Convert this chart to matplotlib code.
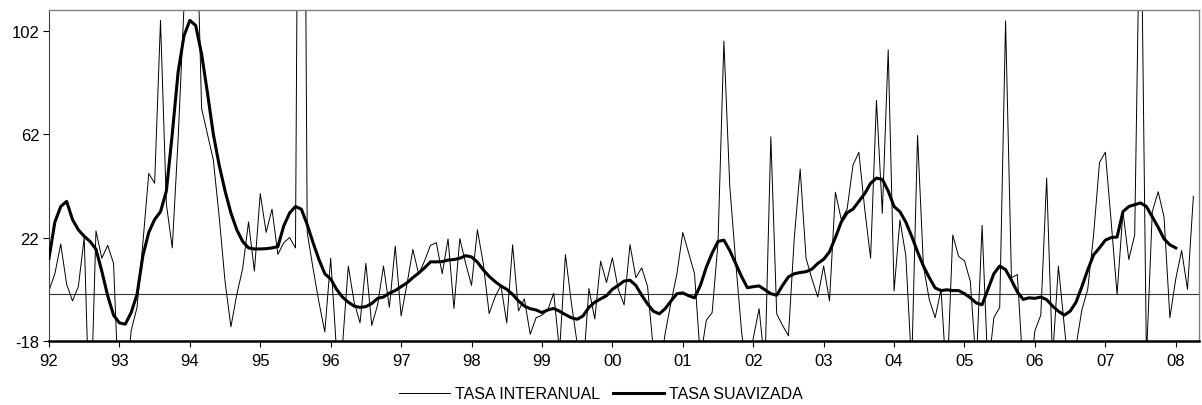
import numpy as np
import matplotlib
matplotlib.use("Agg")
import matplotlib.pyplot as plt

plt.rcParams['font.family'] = ['Liberation Sans', 'DejaVu Sans']
plt.rcParams['axes.unicode_minus'] = False

# Monthly data, Jan 1992 onwards
raw_values = [
    # 1992
    1.5, 8, 19.5, 4, -2.5, 3, 22, -55, 24.6, 14, 19, 12,
    # 1993
    -45, -40, -14, -5, 20, 46.8, 43, 106, 35, 18, 60, 112,
    # 1994
    150, 160, 72, 62, 52, 30, 5, -12.5, 0, 10, 28, 9,
    # 1995
    39, 24, 33, 15.5, 20, 22, 18, 400, 24, 10, -3, -14.5,
    # 1996
    14, -22, -20, 11, -3, -11, 12, -12, -4, 11, -5, 18.7,
    # 1997
    -8.3, 4, 17.4, 7.8, 13, 19, 20, 8, 21.5, -5.4, 21.6, 12,
    # 1998
    3.5, 25, 12, -7.4, -1, 3.5, -11, 19.2, -6.4, -1.7, -15.4, -9,
    # 1999
    -8, -6, 0.5, -22, 15.4, -3, -19, -30, 2.3, -9.5, 12.9, 4.6,
    # 2000
    14.2, 2, -4, 19.3, 6.5, 10.3, 3, -22, -30, -15, -3, 8,
    # 2001
    24, 16, 8, -25, -10, -7, 20, 98, 42, 13, -14, -35,
    # 2002
    -17, -5.5, -28, 61, -7.5, -12, -16, 22, 48.5, 14, 6, -1,
    # 2003
    11, -2.5, 39.5, 29, 33, 50, 55, 33, 14, 75, 31.4, 94.6,
    # 2004
    1.3, 28.8, 15, -28, 61.5, 11, -2, -9, 2, -35, 23, 14.7,
    # 2005
    13, 5, -28, 26.7, -30, -9, -5, 105.8, 6.4, 7.7, -30, -35,
    # 2006
    -14, -8, 45, -25, 10.9, -12, -35, -20, -6, 2, 23, 51,
    # 2007
    55, 28, 0, 32, 13.5, 23, 170, -25, 32, 39.7, 30, -9,
    # 2008
    6, 17, 2, 38,
]

smooth_values = [
    # 1992
    14, 28, 34, 36, 29, 25, 22.5, 20.5, 17.5, 9, -0.5, -8,
    # 1993
    -11, -11.5, -7, 0, 15, 24, 29, 32, 40, 62, 86, 100,
    # 1994
    106, 104, 93, 78, 62, 50, 40, 31.5, 25, 20.5, 18, 17.6,
    # 1995
    17.6, 17.7, 18, 18.5, 26.5, 31.5, 34, 33, 27, 20, 13.5, 8,
    # 1996
    6, 2, -1, -3, -4.5, -5, -4.7, -3.5, -1.5, -1, 0.5, 1.5,
    # 1997
    3, 4.5, 6.5, 8.3, 10.3, 12.6, 12.6, 12.7, 13.3, 13.5, 14, 15,
    # 1998
    14.5, 12.5, 9.5, 7, 5, 3.3, 2, 0, -2.5, -4.5, -5.5, -6,
    # 1999
    -7, -6, -5.4, -6.5, -7.8, -9, -9.6, -8.3, -5, -3, -1.7, -0.5,
    # 2000
    2, 3.5, 5.2, 5.5, 3.5, -0.3, -3.7, -6.5, -7.5, -5.5, -2.5, 0.3,
    # 2001
    0.6, -0.5, -1.3, 3.5, 10.5, 16, 20.5, 21, 17, 12, 7, 2.6,
    # 2002
    3, 3.3, 1.8, 0.3, -0.3, 3.5, 6.8, 8, 8.5, 8.8, 9.8, 12,
    # 2003
    13.6, 16.5, 22, 28, 31.6, 33, 36, 39, 43, 45, 44.5, 40,
    # 2004
    34, 32, 28, 22.5, 16.5, 11, 6.5, 2.5, 1.5, 1.8, 1.5, 1.5,
    # 2005
    0.3, -1.3, -3.3, -4, 2, 8, 11, 9.6, 5.5, 1, -1.9, -1.3,
    # 2006
    -1.5, -1, -2, -4.5, -6.5, -8, -6.5, -3, 3, 9.5, 15.3, 18,
    # 2007
    21, 22, 22.2, 32, 34, 34.7, 35.4, 34, 30, 26, 21.5, 19.2,
    # 2008
    18,
]

start_year = 1992
year_ticks = list(range(1992, 2009))
year_labels = ["92", "93", "94", "95", "96", "97", "98", "99", "00",
               "01", "02", "03", "04", "05", "06", "07", "08"]
y_ticks = [-18, 22, 62, 102]

t_raw = start_year + np.arange(len(raw_values)) / 12.0
t_smooth = start_year + np.arange(len(smooth_values)) / 12.0

fig = plt.figure(figsize=(12.02, 4.06), dpi=100)
ax = fig.add_axes([49 / 1202, 1 - 342 / 406, (1199 - 49) / 1202, (342 - 11) / 406])

ax.axhline(0, color='#333333', lw=0.8, zorder=1)
l1, = ax.plot(t_raw, raw_values, color='black', lw=0.7, label='TASA INTERANUAL', zorder=2)
l2, = ax.plot(t_smooth, smooth_values, color='black', lw=2.2, label='TASA SUAVIZADA', zorder=3)

ax.set_xlim(1992, 2008.33)
ax.set_ylim(-18, 110)

ax.set_xticks(year_ticks)
ax.set_xticklabels(year_labels)
ax.set_yticks(y_ticks)
ax.tick_params(axis='both', labelsize=12, direction='out', length=4, width=0.8, colors='black')
ax.tick_params(axis='x', pad=5)
ax.tick_params(axis='y', pad=3)

for side in ['top', 'right']:
    ax.spines[side].set_color('#808080')
    ax.spines[side].set_linewidth(1.0)
ax.spines['left'].set_color('#404040')
ax.spines['left'].set_linewidth(0.8)
ax.spines['bottom'].set_color('black')
ax.spines['bottom'].set_linewidth(1.8)

fig.legend(handles=[l1, l2], loc='center', bbox_to_anchor=(0.5, 1 - 395 / 406),
           ncol=2, frameon=False, fontsize=11.5, handlelength=3.2,
           handletextpad=0.3, columnspacing=0.8)

fig.savefig('out.png', dpi=100)
